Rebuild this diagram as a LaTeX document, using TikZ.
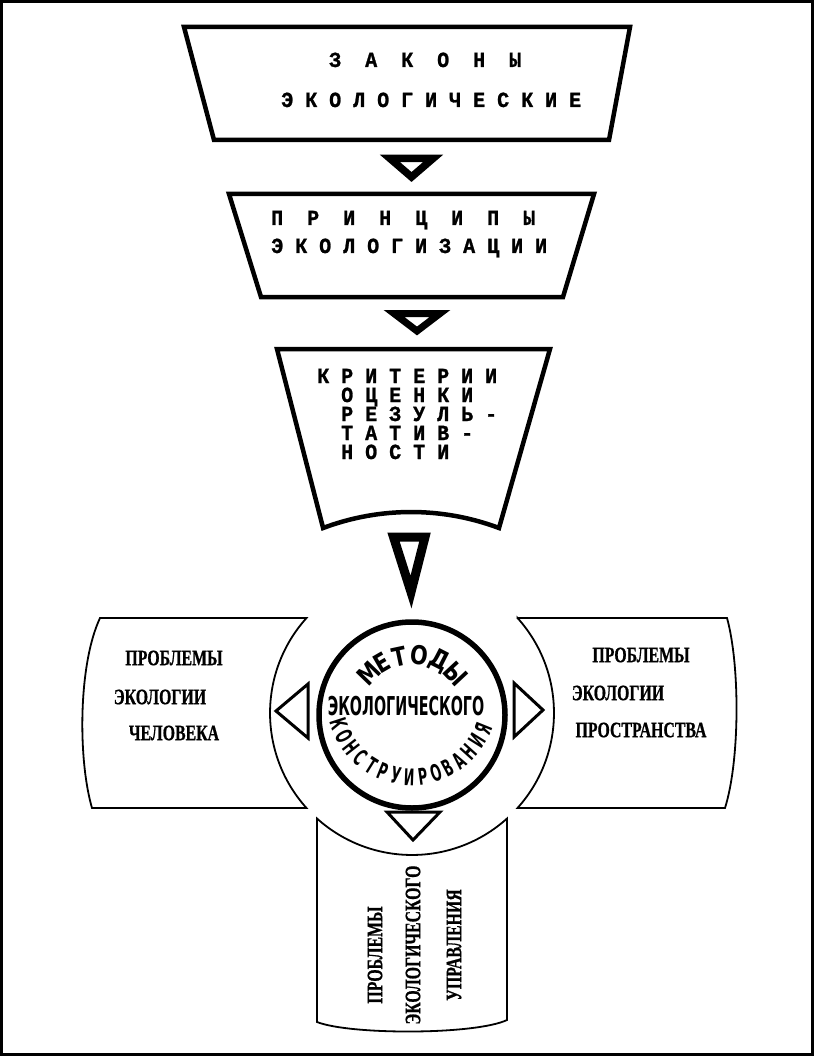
\documentclass[tikz,border=0pt]{standalone}
\usepackage{fontspec}
\newfontfamily\typefont{Liberation Mono}[FakeStretch=0.93,FakeBold=1.2]
\newfontfamily\stampfont{DejaVu Sans}[FakeStretch=0.55]
\newfontfamily\wstampfont{DejaVu Sans}[FakeStretch=0.8]
\newfontfamily\sidefont{Liberation Serif}[FakeStretch=0.72,FakeBold=0.8]

\begin{document}
\begin{tikzpicture}[x=1pt,y=-1pt,
  trap/.style={line width=4.5pt,line join=miter},
  pane/.style={line width=1.8pt},
  tri/.style={line width=3pt,line join=miter},
  mono/.style={font=\typefont\bfseries\fontsize{21.5}{21.5}\selectfont,inner sep=0pt,anchor=base west},
  side/.style={font=\sidefont\bfseries\fontsize{22}{22}\selectfont,inner sep=0pt},
  stamp/.style={font=\stampfont\bfseries\fontsize{#1}{#1}\selectfont,inner sep=0pt},
  wstamp/.style={font=\wstampfont\bfseries\fontsize{#1}{#1}\selectfont,inner sep=0pt}]
  \useasboundingbox (0,0) rectangle (814,1056);
  \draw[line width=3pt] (1.5,1.5) rectangle (812.5,1054.5);

  % laws
  \draw[trap] (184,27) -- (630,27) -- (609,140) -- (214,140) -- cycle;
  \node[mono] (zakony) at (329,67) {З~~А~~К~~О~~Н~~Ы};
  \node[mono] (eklaws) at (281,107) {Э~К~О~Л~О~Г~И~Ч~Е~С~К~И~Е};
  \draw[tri,line width=7.5pt] (390,158.5) -- (433,158.5) -- (411.5,177) -- cycle;

  % principles
  \draw[trap] (229,194) -- (594,194) -- (563,297) -- (261,297) -- cycle;
  \node[mono] (princ) at (271,225) {П~~Р~~И~~Н~~Ц~~И~~П~~Ы};
  \node[mono] (ekprinc) at (271,253) {Э~К~О~Л~О~Г~И~З~А~Ц~И~И};
  \draw[tri,line width=7pt] (394,313.5) -- (440,313.5) -- (417,331) -- cycle;

  % criteria
  \draw[trap] (277,349) -- (550,349) -- (499,528)
    arc[start angle=-69.4,end angle=-110.6,radius=250] -- cycle;
  \node[mono] (crit) at (317,383) {К~Р~И~Т~Е~Р~И~И};
  \foreach \txt [count=\i] in {О~Ц~Е~Н~К~И,Р~Е~З~У~Л~Ь~-,Т~А~Т~И~В~-,Н~О~С~Т~И}
    \node[mono] (crit\i) at (341,383+19*\i) {\txt};
  \draw[tri,line width=9pt] (393.5,537) -- (425,537) -- (411,592) -- cycle;

  % methods
  \coordinate (hub) at (412,715);
  \draw[line width=5.5pt] (hub) circle[radius=93];
  \node[stamp=26] (eco) at (406,706) {ЭКОЛОГИЧЕСКОГО};
  \begin{scope}[shift={(hub)},y=1pt]
    \foreach \ch/\ang in {М/136,Е/120,Т/102,О/83,Д/63,Ы/43}
      \node[wstamp=26,rotate=\ang-90] at (\ang:60) {\ch};
  \end{scope}
  \begin{scope}[shift={(412,700)},y=1pt]
    \foreach \ch [count=\i from 0] in {К,О,Н,С,Т,Р,У,И,Р,О,В,А,Н,И,Я}{
      \pgfmathsetmacro\ang{198+10*\i}
      \node[stamp=23,rotate=\ang+90] at (\ang:77) {\ch};
    }
  \end{scope}

  % human
  \draw[pane] (100,618) -- (306.5,618) arc[start angle=222,end angle=138,radius=142]
    -- (92,808) .. controls (78,760) and (78,665) .. (100,618) -- cycle;
  \node[side] (lp1) at (174,658) {ПРОБЛЕМЫ};
  \node[side] (lp2) at (160,697) {ЭКОЛОГИИ};
  \node[side] (lp3) at (174,733) {ЧЕЛОВЕКА};
  \draw[tri] (308,684) -- (308,738) -- (276,711) -- cycle;

  % space
  \draw[pane] (517.5,618) -- (727,618) .. controls (740,665) and (740,760) .. (725,808)
    -- (517.5,808) arc[start angle=42,end angle=-42,radius=142] -- cycle;
  \node[side] (rp1) at (641,655) {ПРОБЛЕМЫ};
  \node[side] (rp2) at (618,693) {ЭКОЛОГИИ};
  \node[side] (rp3) at (641,730) {ПРОСТРАНСТВА};
  \draw[tri] (514,683) -- (514,737) -- (543,710) -- cycle;

  % management
  \draw[pane] (317,818.5) arc[start angle=132,end angle=48,radius=142]
    -- (507,1020) .. controls (475,1035) and (350,1035) .. (317,1022) -- cycle;
  \node[side,rotate=90] (bp1) at (375,955) {ПРОБЛЕМЫ};
  \node[side,rotate=90] (bp2) at (413,945) {ЭКОЛОГИЧЕСКОГО};
  \node[side,rotate=90] (bp3) at (454,945) {УПРАВЛЕНИЯ};
  \draw[tri] (387,812) -- (440,812) -- (413,840) -- cycle;
\end{tikzpicture}
\end{document}
